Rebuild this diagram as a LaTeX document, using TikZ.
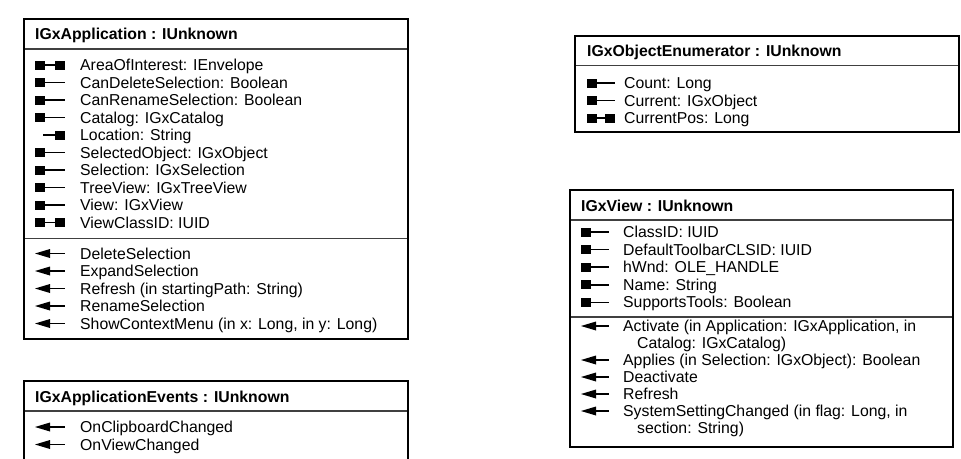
\documentclass[tikz,border=0pt]{standalone}
\usepackage{fontspec}
\setmainfont{Liberation Sans}
\newcommand\icw{30}
\newcommand\IcRO[2]{\fill (#1,#2-4.5) rectangle ++(10,9); \draw[icn] (#1+10,#2) -- (#1+\icw,#2);}
\newcommand\IcRW[2]{\fill (#1,#2-4.5) rectangle ++(10,9); \draw[icn] (#1+10,#2) -- (#1+\icw-10,#2); \fill (#1+\icw-10,#2-4.5) rectangle ++(10,9);}
\newcommand\IcWO[2]{\draw[icn] (#1+8,#2) -- (#1+\icw-10,#2); \fill (#1+\icw-10,#2-4.5) rectangle ++(10,9);}
\newcommand\IcMe[2]{\fill (#1,#2) -- (#1+15,#2-4.5) -- (#1+15,#2+4.5) -- cycle; \draw[icn] (#1+14,#2) -- (#1+\icw,#2);}
\begin{document}
\begin{tikzpicture}[x=1pt,y=-1pt,
  txt/.style={anchor=base west, inner sep=0pt, font=\fontsize{15.8}{17.5}\selectfont},
  ttl/.style={anchor=base west, inner sep=0pt, font=\fontsize{15.8}{17.5}\selectfont\bfseries},
  frame/.style={line width=1.8pt, black},
  sep/.style={line width=1.3pt, black!75},
  icn/.style={line width=1.7pt, black}]
\useasboundingbox (0,0) rectangle (961,458);

% ---------- IGxApplication ----------
\draw[sep] (24,49) -- (408,49);
\draw[sep] (24,238.5) -- (408,238.5);
\draw[frame] (24,19) rectangle (408,339);
\node[ttl] (tA) at (35,39.5) {IGxApplication : IUnknown};
\IcRW{35}{65}     \node[txt] (a1) at (80,70.5) {AreaOfInterest: IEnvelope};
\IcRO{35}{82.5}   \node[txt] (a2) at (80,88) {CanDeleteSelection: Boolean};
\IcRO{35}{100}    \node[txt] (a3) at (80,105.5) {CanRenameSelection: Boolean};
\IcRO{35}{117.5}  \node[txt] (a4) at (80,123) {Catalog: IGxCatalog};
\IcWO{35}{135}    \node[txt] (a5) at (80,140.5) {Location: String};
\IcRO{35}{152.5}  \node[txt] (a6) at (80,158) {SelectedObject: IGxObject};
\IcRO{35}{170}    \node[txt] (a7) at (80,175.5) {Selection: IGxSelection};
\IcRO{35}{187.5}  \node[txt] (a8) at (80,193) {TreeView: IGxTreeView};
\IcRO{35}{205}    \node[txt] (a9) at (80,210.5) {View: IGxView};
\IcRW{35}{222.5}  \node[txt] (a10) at (80,228) {ViewClassID: IUID};
\IcMe{35}{253.5}  \node[txt] (m1) at (80,259) {DeleteSelection};
\IcMe{35}{271}    \node[txt] (m2) at (80,276.5) {ExpandSelection};
\IcMe{35}{288.5}  \node[txt] (m3) at (80,294) {Refresh (in startingPath: String)};
\IcMe{35}{306}    \node[txt] (m4) at (80,311.5) {RenameSelection};
\IcMe{35}{323.5}  \node[txt] (m5) at (80,329) {ShowContextMenu (in x: Long, in y: Long)};

% ---------- IGxApplicationEvents ----------
\draw[sep] (24,411) -- (408,411);
\draw[frame] (24,459) -- (24,381) -- (408,381) -- (408,459);
\node[ttl] (tB) at (35,402) {IGxApplicationEvents : IUnknown};
\IcMe{35}{427}    \node[txt] (e1) at (80,432.5) {OnClipboardChanged};
\IcMe{35}{444.5}  \node[txt] (e2) at (80,450) {OnViewChanged};

% ---------- IGxObjectEnumerator ----------
\renewcommand\icw{28}
\draw[sep] (575,65.5) -- (959,65.5);
\draw[frame] (575,36) rectangle (959,132);
\node[ttl] (tC) at (587,56.5) {IGxObjectEnumerator : IUnknown};
\IcRO{587}{83}    \node[txt] (c1) at (624,88.5) {Count: Long};
\IcRO{587}{100.5} \node[txt] (c2) at (624,106) {Current: IGxObject};
\IcRW{587}{118}   \node[txt] (c3) at (624,123.5) {CurrentPos: Long};

% ---------- IGxView ----------
\draw[sep] (570,220) -- (953,220);
\draw[sep] (570,317) -- (953,317);
\draw[frame] (570,190) rectangle (953,447);
\node[ttl] (tD) at (581,211) {IGxView : IUnknown};
\IcRO{581}{232}   \node[txt] (v1) at (623,237.5) {ClassID: IUID};
\IcRO{581}{249.6} \node[txt] (v2) at (623,255.1) {DefaultToolbarCLSID: IUID};
\IcRO{581}{267.2} \node[txt] (v3) at (623,272.7) {hWnd: OLE\_HANDLE};
\IcRO{581}{284.8} \node[txt] (v4) at (623,290.3) {Name: String};
\IcRO{581}{302.4} \node[txt] (v5) at (623,307.9) {SupportsTools: Boolean};
\IcMe{581}{326}   \node[txt] (w1) at (623,331.5) {Activate (in Application: IGxApplication, in};
                  \node[txt] (w1b) at (637,348.5) {Catalog: IGxCatalog)};
\IcMe{581}{360}   \node[txt] (w2) at (623,365.5) {Applies (in Selection: IGxObject): Boolean};
\IcMe{581}{377}   \node[txt] (w3) at (623,382.5) {Deactivate};
\IcMe{581}{394}   \node[txt] (w4) at (623,399.5) {Refresh};
\IcMe{581}{411}   \node[txt] (w5) at (623,416.5) {SystemSettingChanged (in flag: Long, in};
                  \node[txt] (w5b) at (637,433.5) {section: String)};
\end{tikzpicture}
\end{document}
